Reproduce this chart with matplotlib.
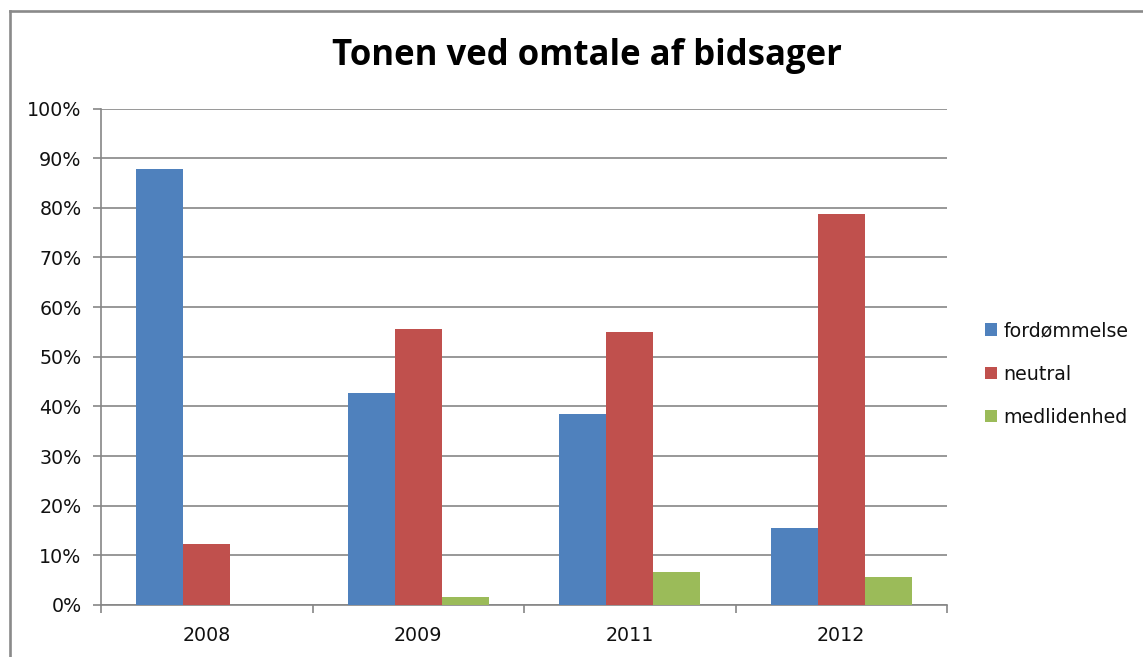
import matplotlib
matplotlib.use("Agg")
import matplotlib.pyplot as plt
from matplotlib.lines import Line2D
from matplotlib.ticker import FixedLocator, PercentFormatter

# Data
years = ["2008", "2009", "2011", "2012"]
series_names = ["fordømmelse", "neutral", "medlidenhed"]
fordoemmelse = [87.8, 42.7, 38.5, 15.5]
neutral = [12.2, 55.6, 55.0, 78.8]
medlidenhed = [0.0, 1.7, 6.6, 5.6]
colors = ["#4F81BD", "#C0504D", "#9BBB59"]
title = "Tonen ved omtale af bidsager"

W, H, DPI = 1143, 657, 100
fig = plt.figure(figsize=(W / DPI, H / DPI), dpi=DPI)
fig.patch.set_facecolor("white")

# plot area in pixel coordinates
left, right, top, bottom = 101, 947, 108.5, 605
ax = fig.add_axes([left / W, (H - bottom) / H, (right - left) / W, (bottom - top) / H])

grey = "#868686"
label_size = 13.7
bar_w = 1 / 4.5
values = [fordoemmelse, neutral, medlidenhed]
x = list(range(len(years)))
for k, (vals, name, col) in enumerate(zip(values, series_names, colors)):
    pos = [xi + (k - 1) * bar_w for xi in x]
    ax.bar(pos, vals, width=bar_w, color=col, label=name, zorder=3, linewidth=0)

ax.set_xlim(-0.5, len(years) - 0.5)
ax.set_ylim(0, 100)
ax.yaxis.set_major_locator(FixedLocator(range(0, 101, 10)))
ax.yaxis.set_major_formatter(PercentFormatter(decimals=0))
ax.grid(axis="y", color=grey, linewidth=1.2, zorder=0)

# category boundary ticks, labels centred on the categories
ax.xaxis.set_major_locator(FixedLocator([i - 0.5 for i in range(len(years) + 1)]))
ax.xaxis.set_ticklabels([])
ax.xaxis.set_minor_locator(FixedLocator(x))
ax.set_xticks(x, years, minor=True)
ax.tick_params(axis="x", which="major", length=6, width=1.2, color=grey)
ax.tick_params(axis="x", which="minor", length=0, pad=15, labelsize=label_size, labelcolor="#111111")
ax.tick_params(axis="y", length=6, width=1.2, color=grey, pad=8, labelsize=label_size, labelcolor="#111111")

for s in ["top", "right"]:
    ax.spines[s].set_visible(False)
for s in ["left", "bottom"]:
    ax.spines[s].set_color(grey)
    ax.spines[s].set_linewidth(1.2)
ax.set_axisbelow(True)

for lab in ax.get_yticklabels() + ax.get_xticklabels(minor=True):
    lab.set_family("DejaVu Sans")

fig.text(587 / W, 1 - 56 / H, title, ha="center", va="center",
         fontsize=25, fontweight="bold", family="Open Sans", color="black")

leg = fig.legend(loc="center left", bbox_to_anchor=(985 / W, 1 - 374 / H),
                 frameon=False, fontsize=label_size, handlelength=0.62, handleheight=0.62,
                 handletextpad=0.36, labelspacing=1.27, borderaxespad=0, borderpad=0)
for t in leg.get_texts():
    t.set_color("#111111")
    t.set_family("DejaVu Sans")

# chart border (top and left edges)
bx, by = 10, 11
fig.add_artist(Line2D([bx / W, 1.0], [1 - by / H, 1 - by / H], transform=fig.transFigure,
                      color="#8a8a8a", linewidth=1.9, solid_capstyle="projecting"))
fig.add_artist(Line2D([bx / W, bx / W], [1 - by / H, 0.0], transform=fig.transFigure,
                      color="#8a8a8a", linewidth=1.9, solid_capstyle="projecting"))

fig.savefig("out.png", dpi=DPI, facecolor="white")
